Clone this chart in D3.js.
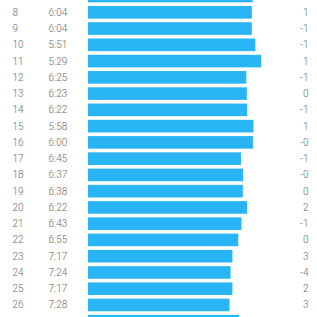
<!DOCTYPE html>
<html>
<head>
<meta charset="utf-8">
<script src="https://cdn.jsdelivr.net/npm/d3@7"></script>
<style>
  html, body { margin: 0; padding: 0; background: #fff; overflow: hidden; }
  #splits { width: 317px; height: 317px; }
  text { font-family: Roboto, "Liberation Sans", sans-serif; font-weight: 300; }
</style>
</head>
<body>
<div id="splits"></div>
<script>
// split numbers (rows 7 and 27 are only partly visible at the edges)
var splitNo = [7, 8, 9, 10, 11, 12, 13, 14, 15, 16, 17, 18, 19, 20, 21, 22, 23, 24, 25, 26, 27];
// pace per split, m:ss
var paceLabel = ["6:01", "6:04", "6:04", "5:51", "5:29", "6:25", "6:23", "6:22", "5:58", "6:00", "6:45",
                 "6:37", "6:38", "6:22", "6:43", "6:55", "7:17", "7:24", "7:17", "7:28", "6:52"];
// elevation change per split
var elevLabel = ["0", "1", "-1", "-1", "1", "-1", "0", "-1", "1", "-0", "-1",
                 "-0", "0", "2", "-1", "0", "3", "-4", "2", "3", "0"];

var paceSec = paceLabel.map(function (p) {
  var parts = p.split(":");
  return +parts[0] * 60 + +parts[1];
});

var rows = splitNo.map(function (n, i) {
  return { split: n, pace: paceLabel[i], secs: paceSec[i], elev: elevLabel[i] };
});
// only rows 8..26 have their text on screen
var shown = rows.filter(d => d.split >= 8 && d.split <= 26);

var el = document.getElementById('splits');
var box = el.getBoundingClientRect();
var width = box.width;
var height = box.height;

var barLeft = 88;

var svg = d3.select("#splits")
  .append("svg")
  .attr("width", width)
  .attr("height", height);

// rows are 16.26px apart, row 8 centred at y = 12.3
var step = 16.26;
var yStart = 12.3 - step * 1.5;
var yScale = d3.scaleBand()
  .domain(splitNo)
  .range([yStart, yStart + step * splitNo.length])
  .paddingInner(0.225)
  .paddingOuter(0.1125);

// faster pace -> longer bar
var wScale = d3.scaleLinear()
  .domain([329, 448])
  .range([173.2, 141.5]);

svg.selectAll("rect.bar")
  .data(rows)
  .enter().append("rect")
  .attr("class", "bar")
  .attr("x", barLeft)
  .attr("y", d => yScale(d.split))
  .attr("width", d => wScale(d.secs))
  .attr("height", yScale.bandwidth())
  .attr("fill", "#29b5f5");

var mid = d => yScale(d.split) + yScale.bandwidth() / 2;

function addColumn(cls, x, anchor, fn) {
  svg.selectAll("text." + cls)
    .data(shown)
    .enter().append("text")
    .attr("class", cls)
    .attr("x", x)
    .attr("y", mid)
    .attr("dy", "0.35em")
    .attr("font-size", "10px")
    .attr("fill", "#6b6b6b")
    .style("text-anchor", anchor)
    .text(fn);
}

addColumn("num", 12.5, "start", d => d.split);
addColumn("pace", 48.5, "start", d => d.pace);
addColumn("elev", 308.5, "end", d => d.elev);
</script>
</body>
</html>
